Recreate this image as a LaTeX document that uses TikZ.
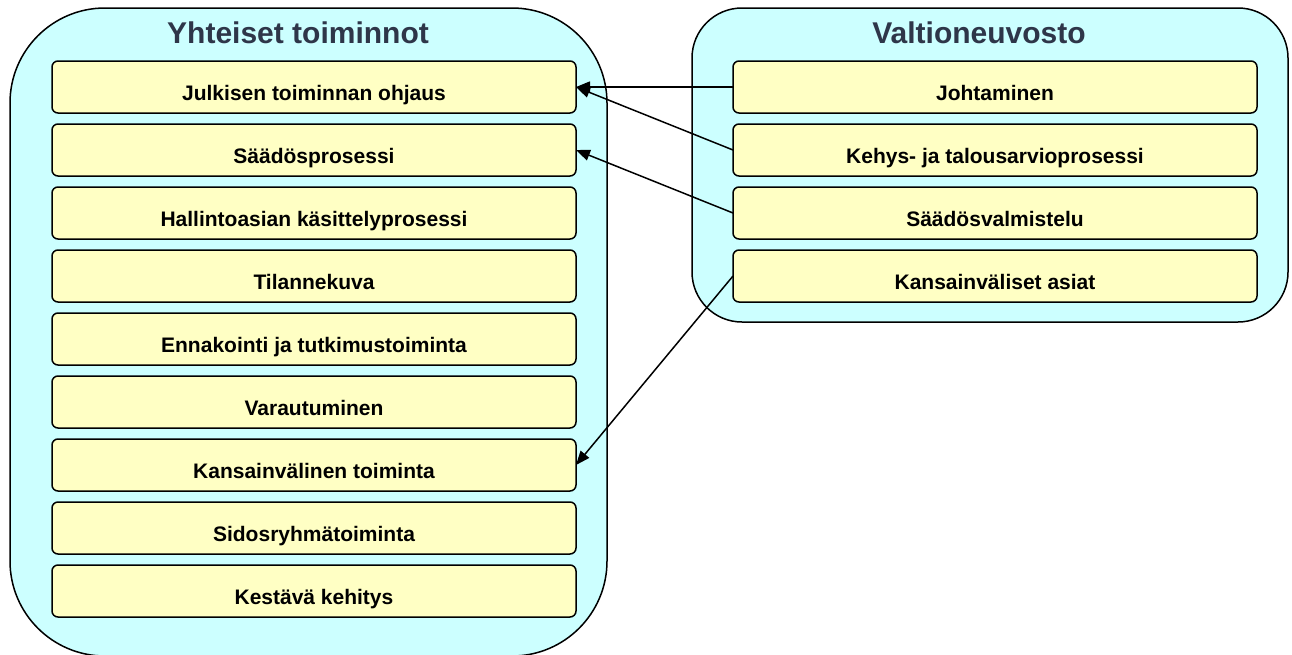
\documentclass[tikz,border=0pt]{standalone}
\usepackage{fontspec}
\setmainfont{Liberation Sans}
\usetikzlibrary{arrows.meta,positioning}

\definecolor{groupfill}{HTML}{CCFFFF}
\definecolor{taskfill}{HTML}{FFFFC4}
\definecolor{titlecol}{HTML}{2E3649}

\begin{document}
\begin{tikzpicture}[
  x = 1pt, y = 1pt,
  node distance = 11pt,
  > = {Triangle[length=14pt,width=11pt]},
  group/.style = {rectangle, draw, line width=1.5pt, fill=groupfill,
                  inner sep=0pt, outer sep=0pt},
  title/.style = {anchor=base, text=titlecol,
                  font=\fontsize{30}{32}\selectfont\bfseries},
  task/.style  = {rectangle, draw, line width=1.5pt, fill=taskfill,
                  rounded corners=6pt, minimum width=524pt, minimum height=52pt,
                  inner sep=0pt, outer sep=0pt, text height=27pt, text depth=0pt,
                  font=\fontsize{21}{23}\selectfont\bfseries},
  link/.style  = {->, line width=1.5pt}
]
\useasboundingbox (0,0) rectangle (1292,-654);

% containers
\node[group, rounded corners=95pt, minimum width=597pt, minimum height=648pt]
  (yht) at (308.5,-332) {};
\node[group, rounded corners=50pt, minimum width=596pt, minimum height=314pt]
  (vn) at (990,-165) {};

\node[title] (yhtttl) at (298,-43) {Yhteiset toiminnot};
\node[title] (vnttl) at (979,-43) {Valtioneuvosto};

% Yhteiset toiminnot
\node[task] (jul) at (314,-87) {Julkisen toiminnan ohjaus};
\node[task, below=of jul]    (saad)  {Säädösprosessi};
\node[task, below=of saad]   (hall)  {Hallintoasian käsittelyprosessi};
\node[task, below=of hall]   (tilk)  {Tilannekuva};
\node[task, below=of tilk]   (enn)   {Ennakointi ja tutkimustoiminta};
\node[task, below=of enn]    (vara)  {Varautuminen};
\node[task, below=of vara]   (kvt)   {Kansainvälinen toiminta};
\node[task, below=of kvt]    (sid)   {Sidosryhmätoiminta};
\node[task, below=of sid]    (kest)  {Kestävä kehitys};

% Valtioneuvosto
\node[task] (joht) at (995,-87) {Johtaminen};
\node[task, below=of joht]   (kehys) {Kehys- ja talousarvioprosessi};
\node[task, below=of kehys]  (svalm) {Säädösvalmistelu};
\node[task, below=of svalm]  (kva)   {Kansainväliset asiat};

\draw[link] (joht.west)  -- (jul.east);
\draw[link] (kehys.west) -- (jul.east);
\draw[link] (svalm.west) -- (saad.east);
\draw[link] (kva.west)   -- (kvt.east);
\end{tikzpicture}
\end{document}
